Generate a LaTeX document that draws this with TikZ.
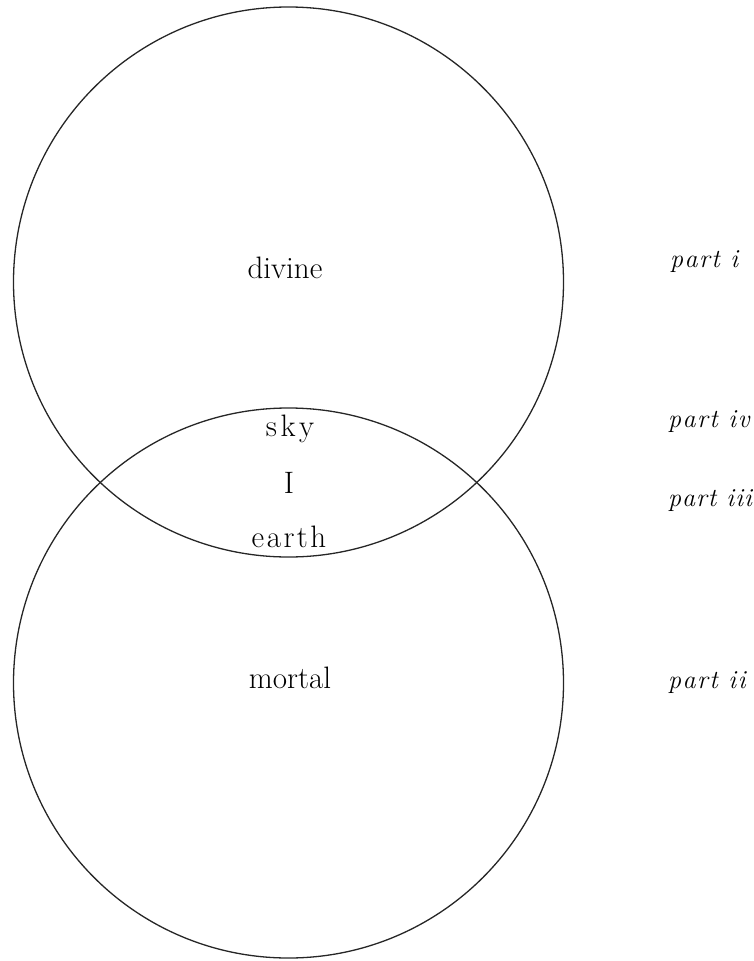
\documentclass[tikz,border=0pt]{standalone}
\usepackage{fontspec}
\begin{document}
\begin{tikzpicture}[x=1pt,y=-1pt,
  ring/.style={draw=black!85,line width=1.3pt},
  word/.style={inner sep=0pt,anchor=base,font=\fontsize{31}{37}\selectfont},
  partlabel/.style={inner sep=0pt,anchor=base west,font=\fontsize{26}{31}\selectfont\itshape}]
\useasboundingbox (0,0) rectangle (754,961);
\node[circle,ring,minimum size=550pt,inner sep=0pt] (top) at (288.5,282) {};
\node[circle,ring,minimum size=550pt,inner sep=0pt] (bottom) at (288.5,683) {};
\node[word] (divine) at (285,278) {divine};
\node[word] (sky) at (290,436) {s\kern3.5pt k\kern3.5pt y};
\node[word] (I) at (289,493) {I};
\node[word] (earth) at (289,547) {e\kern2.5pt a\kern2.5pt r\kern2.5pt t\kern2.5pt h};
\node[word] (mortal) at (290,688) {mortal};
\node[partlabel] (p1) at (670,267) {p\kern1.5pt a\kern1.5pt r\kern1.5pt t\kern1.5pt\ i};
\node[partlabel] (p4) at (668,427) {p\kern1.5pt a\kern1.5pt r\kern1.5pt t\kern1.5pt\ i\kern1.5pt v};
\node[partlabel] (p3) at (668,506) {p\kern1pt a\kern1pt r\kern1pt t\kern1pt\ i\kern1pt i\kern1pt i};
\node[partlabel] (p2) at (668,688) {p\kern1.5pt a\kern1.5pt r\kern1.5pt t\kern1.5pt\ i\kern1.5pt i};
\end{tikzpicture}
\end{document}
